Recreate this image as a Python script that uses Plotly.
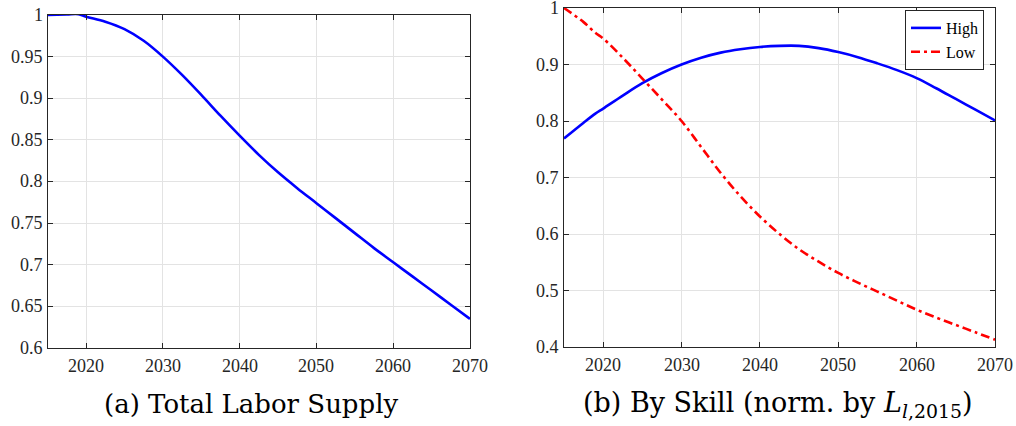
import plotly.graph_objects as go

# ---- data ----
years_total = [2015, 2017.5, 2019, 2020, 2022.5, 2025, 2027.5, 2030, 2032.5, 2035, 2037.5, 2040,
               2042.5, 2045, 2047.5, 2050, 2052.5, 2055, 2057.5, 2060, 2062.5, 2065, 2067.5, 2070]
total_supply = [1.000, 1.0007, 1.001, 0.998, 0.992, 0.983, 0.969, 0.950, 0.928, 0.904, 0.879, 0.855,
                0.832, 0.811, 0.792, 0.774, 0.756, 0.738, 0.720, 0.703, 0.686, 0.669, 0.652, 0.635]

years_skill = [2015, 2017.5, 2019, 2020, 2022.5, 2025, 2027.5, 2030, 2032.5, 2035, 2037.5, 2040,
               2042.5, 2045, 2047.5, 2050, 2052.5, 2055, 2057.5, 2060, 2062.5, 2065, 2067.5, 2070]
high_skill = [0.769, 0.797, 0.813, 0.822, 0.845, 0.867, 0.885, 0.900, 0.912, 0.921, 0.927, 0.931,
              0.933, 0.933, 0.929, 0.922, 0.913, 0.902, 0.890, 0.876, 0.858, 0.839, 0.820, 0.801]
low_skill = [1.000, 0.975, 0.956, 0.946, 0.912, 0.875, 0.838, 0.800, 0.754, 0.708, 0.667, 0.631,
             0.600, 0.573, 0.551, 0.531, 0.514, 0.498, 0.482, 0.466, 0.452, 0.439, 0.426, 0.413]

x_ticks = [2020, 2030, 2040, 2050, 2060, 2070]
x_labels = ["2020", "2030", "2040", "2050", "2060", "2070"]
y_ticks_a = [0.6, 0.65, 0.7, 0.75, 0.8, 0.85, 0.9, 0.95, 1.0]
y_labels_a = ["0.6", "0.65", "0.7", "0.75", "0.8", "0.85", "0.9", "0.95", "1"]
y_ticks_b = [0.4, 0.5, 0.6, 0.7, 0.8, 0.9, 1.0]
y_labels_b = ["0.4", "0.5", "0.6", "0.7", "0.8", "0.9", "1"]

W, H = 1016, 426
AX = "#262626"
GRID = "#e3e3e3"
SERIF = "Liberation Serif"
TICKFONT = dict(family=SERIF, size=18, color=AX)

dom_xa = [47.7 / W, 470 / W]
dom_xb = [564 / W, 995 / W]
dom_ya = [78 / H, 411 / H]
dom_yb = [79 / H, 418 / H]

fig = go.Figure()
fig.add_trace(go.Scatter(x=years_total, y=total_supply, mode="lines",
                         line=dict(color="#0000ff", width=2.6, shape="spline", smoothing=1.0),
                         showlegend=False, xaxis="x", yaxis="y"))
fig.add_trace(go.Scatter(x=years_skill, y=high_skill, mode="lines", name="High",
                         line=dict(color="#0000ff", width=2.6, shape="spline", smoothing=1.0),
                         xaxis="x2", yaxis="y2"))
fig.add_trace(go.Scatter(x=years_skill, y=low_skill, mode="lines", name="Low",
                         line=dict(color="#ff0000", width=2.6, dash="9px,4px,3px,4px", shape="spline", smoothing=1.0),
                         xaxis="x2", yaxis="y2"))

def xax(domain, anchor):
    return dict(domain=domain, anchor=anchor, range=[2015, 2070], tickmode="array", tickvals=x_ticks,
                showticklabels=False,
                ticks="inside", ticklen=5, tickcolor=AX, showline=True, linecolor=AX, linewidth=1.2,
                mirror="ticks", showgrid=True, gridcolor=GRID, gridwidth=1, zeroline=False)

def yax(domain, anchor, rng, vals):
    return dict(domain=domain, anchor=anchor, range=rng, tickmode="array", tickvals=vals,
                showticklabels=False,
                ticks="inside", ticklen=5, tickcolor=AX, showline=True, linecolor=AX, linewidth=1.2,
                mirror="ticks", showgrid=True, gridcolor=GRID, gridwidth=1, zeroline=False)

# tick labels placed through the axes' own coordinates
ann = []
for xref, ydom in (("x", dom_ya), ("x2", dom_yb)):
    for v, t in zip(x_ticks, x_labels):
        ann.append(dict(text=t, x=v, xref=xref, y=ydom[0], yref="paper", xanchor="center", yanchor="top",
                        yshift=-6, showarrow=False, font=TICKFONT))
for yref, xdom, vals, labels in (("y", dom_xa, y_ticks_a, y_labels_a), ("y2", dom_xb, y_ticks_b, y_labels_b)):
    for v, t in zip(vals, labels):
        ann.append(dict(text=t, y=v, yref=yref, x=xdom[0], xref="paper", xanchor="right", yanchor="middle",
                        xshift=-3, showarrow=False, font=TICKFONT))

ann.append(dict(text="(a) Total Labor Supply", x=250.5 / W, y=(H - 404) / H, xref="paper", yref="paper",
                showarrow=False, xanchor="center", yanchor="middle",
                font=dict(family="DejaVu Serif", size=26, color="black")))
ann.append(dict(text="(b) By Skill (norm. by <i>L</i><sub><i>l</i>,2015</sub>)", x=778 / W, y=(H - 404) / H,
                xref="paper", yref="paper", showarrow=False, xanchor="center", yanchor="middle",
                font=dict(family="DejaVu Serif", size=27, color="black")))

fig.update_layout(
    width=W, height=H, margin=dict(l=0, r=0, t=0, b=0),
    font=dict(family=SERIF, size=16, color=AX),
    paper_bgcolor="white", plot_bgcolor="white",
    xaxis=xax(dom_xa, "y"),
    yaxis=yax(dom_ya, "x", [0.6, 1.0], y_ticks_a),
    xaxis2=xax(dom_xb, "y2"),
    yaxis2=yax(dom_yb, "x2", [0.4, 1.0], y_ticks_b),
    legend=dict(x=984 / W, y=(H - 10) / H, xanchor="right", yanchor="top",
                bgcolor="white", bordercolor=AX, borderwidth=1,
                font=dict(family="serif", size=16, color="black"),
                tracegroupgap=0),
    showlegend=True,
    annotations=ann,
)

fig.write_html("out.html")
